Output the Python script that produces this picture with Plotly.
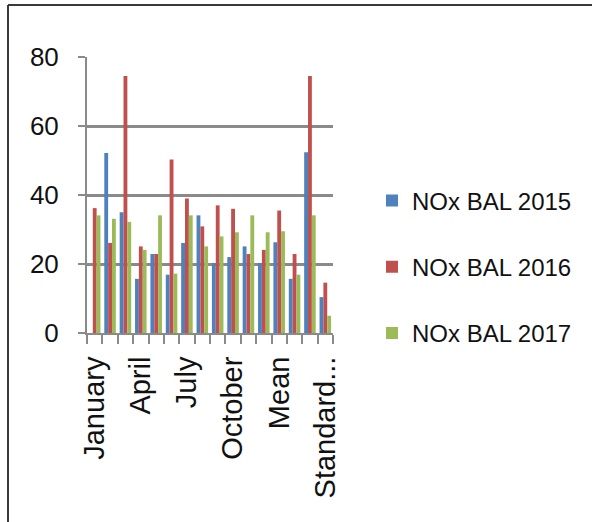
import plotly.graph_objects as go

# Monthly NOx values and summary statistics per year
categories = ["January", "February", "March", "April", "May", "June", "July",
              "August", "September", "October", "November", "December",
              "Mean", "Min", "Max", "Standard deviation"]
tick_text = ["January", "", "", "April", "", "", "July", "", "", "October",
             "", "", "Mean", "", "", "Standard..."]

nox_2015 = [None, 52.2, 35.0, 15.7, 22.9, 16.9, 26.1, 34.1, 20.3, 22.0, 25.1, 20.3,
            26.3, 15.7, 52.4, 10.4]
nox_2016 = [36.2, 26.1, 74.5, 25.1, 22.9, 50.3, 39.0, 30.9, 37.0, 36.0, 22.9, 24.1,
            35.5, 22.9, 74.5, 14.6]
nox_2017 = [34.1, 33.1, 32.2, 24.1, 34.1, 17.2, 34.1, 25.1, 28.0, 29.2, 34.1, 29.2,
            29.5, 16.9, 34.1, 5.0]

series = [
    ("NOx BAL 2015", nox_2015, "#4F81BD"),
    ("NOx BAL 2016", nox_2016, "#C0504D"),
    ("NOx BAL 2017", nox_2017, "#9BBB59"),
]

FONT = "Liberation Sans, Arial, sans-serif"
W, H = 592, 522
ML, MR, MT, MB = 87, 259, 57, 189
PW, PH = W - ML - MR, H - MT - MB

fig = go.Figure()
for i, (name, vals, color) in enumerate(series):
    fig.add_trace(go.Bar(
        x=categories, y=vals, name=name, marker_color=color,
        marker_line_width=0, legendgroup=f"g{i}",
    ))


def px_x(p):
    return (p - ML) / PW


def px_y(p):
    return (H - MB - p) / PH


fig.update_layout(
    width=W, height=H,
    margin=dict(l=ML, r=MR, t=MT, b=MB, autoexpand=False),
    paper_bgcolor="white", plot_bgcolor="white",
    barmode="group", bargap=0.25, bargroupgap=0,
    font=dict(family=FONT, color="#111111", size=26),
    legend=dict(
        x=px_x(372), xanchor="left", y=px_y(267), yanchor="middle",
        font=dict(size=24), tracegroupgap=32, traceorder="grouped",
        itemwidth=30, bgcolor="rgba(0,0,0,0)",
    ),
    xaxis=dict(
        tickmode="array", tickvals=categories, ticktext=tick_text,
        tickson="boundaries", ticks="outside", ticklen=9, tickwidth=2,
        tickcolor="#8a8a8a", tickangle=-90, tickfont=dict(size=29),
        ticklabelstandoff=10,
        showline=True, linecolor="#8a8a8a", linewidth=2,
        showgrid=False, range=[-0.5, 15.5],
    ),
    yaxis=dict(
        range=[0, 80], tickvals=[0, 20, 40, 60, 80],
        ticks="outside", ticklen=7, tickwidth=2, tickcolor="#8a8a8a",
        ticklabelstandoff=14, tickfont=dict(size=26),
        showline=True, linecolor="#8a8a8a", linewidth=2,
        showgrid=True, gridcolor="#8a8a8a", gridwidth=2.5,
        zeroline=False,
    ),
    shapes=[
        # outer frame: top and left edges
        dict(type="line", xref="paper", yref="paper",
             x0=px_x(8), x1=px_x(W + 5), y0=px_y(5), y1=px_y(5),
             line=dict(color="#3a3a3a", width=2)),
        dict(type="line", xref="paper", yref="paper",
             x0=px_x(8), x1=px_x(8), y0=px_y(5), y1=px_y(H + 5),
             line=dict(color="#3a3a3a", width=2)),
    ],
)

fig.write_html("out.html")
